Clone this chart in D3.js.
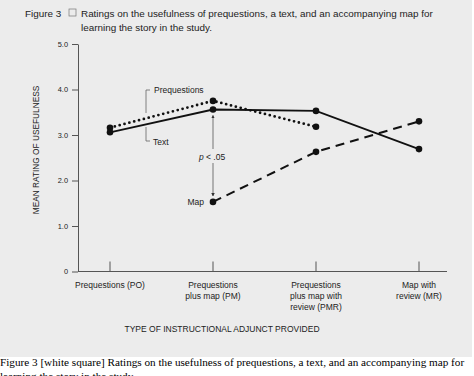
<!DOCTYPE html>
<html>
<head>
<meta charset="utf-8">
<script src="https://cdn.jsdelivr.net/npm/d3@7"></script>
<style>
  body { margin: 0; background: #fff; }
  svg text { font-family: "Liberation Sans", Arial, sans-serif; fill: #222; }
  .caption { font-family: "Liberation Serif", "Times New Roman", serif; fill: #000; }
</style>
</head>
<body>
<script>
// data
var categories = ["PO", "PM", "PMR", "MR"]
var catLabels = [
  ["Prequestions (PO)"],
  ["Prequestions", "plus map (PM)"],
  ["Prequestions", "plus map with", "review (PMR)"],
  ["Map with", "review (MR)"]
]
var prequestions = [3.16, 3.75, 3.18, null]
var text = [3.06, 3.56, 3.53, 2.69]
var map = [null, 1.53, 2.63, 3.30]
var yTicks = [0, 1, 2, 3, 4, 5]

var W = 474, H = 376
var svg = d3.select("body").append("svg").attr("width", W).attr("height", H)

svg.append("rect").attr("width", 472).attr("height", 357).attr("fill", "#ececec")

// figure title
var t1 = svg.append("text").attr("y", 17).attr("font-size", 9.9).attr("fill", "#444")
t1.append("tspan").attr("x", 25).text("Figure 3")
svg.append("rect").attr("x", 69).attr("y", 9).attr("width", 7).attr("height", 7)
    .attr("fill", "none").attr("stroke", "#777").attr("stroke-width", 0.7)
t1.append("tspan").attr("x", 81).text("Ratings on the usefulness of prequestions, a text, and an accompanying map for")
svg.append("text").attr("x", 81).attr("y", 31).attr("font-size", 9.9).attr("fill", "#444")
    .text("learning the story in the study.")

var x = d3.scalePoint().domain(categories).range([110, 419])
var y = d3.scaleLinear().domain([0, 5]).range([271.5, 44])

var g = svg.append("g")

// y axis
var yAxis = d3.axisLeft(y).tickValues(yTicks).tickSize(6).tickSizeOuter(0)
    .tickFormat(function(d){ return d === 0 ? "0" : d3.format(".1f")(d) })
var ya = g.append("g").attr("transform", "translate(78,0)").call(yAxis)
ya.select(".domain").attr("stroke", "#555")
ya.selectAll(".tick line").attr("stroke", "#555")
ya.selectAll(".tick text").attr("font-size", 7.4).attr("fill", "#444").attr("x", -10)

// x axis baseline and upward ticks
g.append("line").attr("x1", 78).attr("x2", 447).attr("y1", y(0)).attr("y2", y(0))
    .attr("stroke", "#555")
g.selectAll(".xt").data(categories).enter().append("line")
    .attr("x1", function(d){ return x(d) }).attr("x2", function(d){ return x(d) })
    .attr("y1", y(0)).attr("y2", y(0) - 10).attr("stroke", "#555")

// category labels
g.selectAll(".xl").data(categories).enter().append("text")
    .attr("text-anchor", "middle").attr("font-size", 8.5).attr("fill", "#333")
    .each(function(d, i){
      var el = d3.select(this)
      catLabels[i].forEach(function(s, j){
        el.append("tspan").attr("x", x(d)).attr("y", 288 + j * 11).text(s)
      })
    })

g.append("text").attr("x", 222).attr("y", 332).attr("text-anchor", "middle")
    .attr("font-size", 8.5).attr("fill", "#333").text("TYPE OF INSTRUCTIONAL ADJUNCT PROVIDED")

g.append("text").attr("transform", "translate(39,150) rotate(-90)")
    .attr("text-anchor", "middle").attr("font-size", 8.3).attr("fill", "#333")
    .text("MEAN RATING OF USEFULNESS")

// series
function series(vals, dash, width){
  var pts = categories.map(function(c, i){ return [c, vals[i]] })
      .filter(function(p){ return p[1] != null })
  var line = d3.line().x(function(p){ return x(p[0]) }).y(function(p){ return y(p[1]) })
  g.append("path").datum(pts).attr("d", line).attr("fill", "none")
      .attr("stroke", "#111").attr("stroke-width", width)
      .attr("stroke-dasharray", dash).attr("stroke-linecap", dash === "0,5" ? "round" : "butt")
  return pts
}
var pq = series(prequestions, "0,5", 2.8)
var tx = series(text, null, 1.8)
var mp = series(map, "9,6", 2)

var allPts = pq.concat(tx, mp)
g.selectAll(".dot").data(allPts).enter().append("circle")
    .attr("cx", function(p){ return x(p[0]) }).attr("cy", function(p){ return y(p[1]) })
    .attr("r", 3.3).attr("fill", "#111")

// brackets for Prequestions / Text labels
var bx = 146
g.append("path").attr("d", "M" + (bx + 4) + ",90 H" + bx + " V113")
    .attr("fill", "none").attr("stroke", "#666").attr("stroke-width", 0.8)
g.append("path").attr("d", "M" + bx + ",127 V141 H" + (bx + 4))
    .attr("fill", "none").attr("stroke", "#666").attr("stroke-width", 0.8)
g.append("text").attr("x", 154).attr("y", 93).attr("font-size", 8.5).text("Prequestions")
g.append("text").attr("x", 153).attr("y", 145).attr("font-size", 8.5).text("Text")

// significance arrow between Text and Map at PM
var ax = x("PM")
var defs = svg.append("defs")
defs.append("marker").attr("id", "ah").attr("viewBox", "0 0 6 6").attr("refX", 5).attr("refY", 3)
    .attr("markerWidth", 5).attr("markerHeight", 5).attr("orient", "auto-start-reverse")
  .append("path").attr("d", "M0,0 L6,3 L0,6 z").attr("fill", "#333")
g.append("line").attr("x1", ax).attr("x2", ax).attr("y1", y(3.56) + 6).attr("y2", 149)
    .attr("stroke", "#444").attr("stroke-width", 0.7).attr("marker-start", "url(#ah)")
g.append("line").attr("x1", ax).attr("x2", ax).attr("y1", 163).attr("y2", y(1.53) - 6)
    .attr("stroke", "#444").attr("stroke-width", 0.7).attr("marker-end", "url(#ah)")
var pt = g.append("text").attr("x", ax - 1).attr("y", 160).attr("text-anchor", "middle").attr("font-size", 8.5)
pt.append("tspan").attr("font-style", "italic").text("p")
pt.append("tspan").text(" <  .05")
g.append("text").attr("x", 204).attr("y", 205).attr("text-anchor", "end").attr("font-size", 8.5).text("Map")

// caption below the figure (second line is cut by the frame, as in the original)
svg.append("text").attr("class", "caption").attr("x", 0).attr("y", 366).attr("font-size", 11.2)
    .text("Figure 3 [white square] Ratings on the usefulness of prequestions, a text, and an accompanying map for")
svg.append("text").attr("class", "caption").attr("x", 0).attr("y", 380).attr("font-size", 11.2)
    .text("learning the story in the study.")
</script>
</body>
</html>
